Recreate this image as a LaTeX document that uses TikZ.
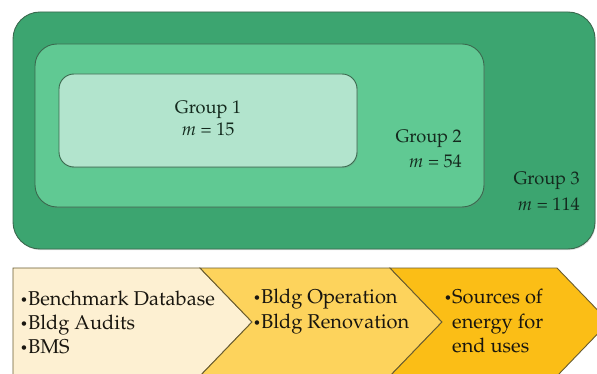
\documentclass[tikz,border=0pt]{standalone}
\usepackage[T1]{fontenc}
\usepackage{mathpazo}
\usetikzlibrary{shadows}
\definecolor{gthree}{RGB}{60,165,112}
\definecolor{gtwo}{RGB}{96,201,147}
\definecolor{gone}{RGB}{178,228,205}
\definecolor{gborder}{RGB}{58,105,78}
\definecolor{gtext}{RGB}{20,42,30}
\definecolor{cone}{RGB}{253,240,210}
\definecolor{ctwo}{RGB}{253,211,92}
\definecolor{cthree}{RGB}{251,190,22}
\definecolor{cborder}{RGB}{105,92,48}
\definecolor{ctext}{RGB}{25,22,15}
\newcommand{\bul}{{\fontsize{13}{13}\selectfont\raisebox{0.15ex}{\textbullet}}}
\begin{document}
\begin{tikzpicture}[x=1pt,y=-1pt,
  grpbox/.style={draw=gborder, line width=0.9pt, inner sep=0pt,
    drop shadow={opacity=0.25, shadow xshift=0.8pt, shadow yshift=-1.2pt}},
  grptext/.style={text=gtext, inner sep=0pt, font=\fontsize{18.2}{21}\selectfont},
  chev/.style={draw=cborder, line width=0.9pt, line join=miter},
  chevtext/.style={text=ctext, inner sep=0pt, anchor=base west, font=\fontsize{20}{24}\selectfont}]
\useasboundingbox (0,0) rectangle (597,374);
\clip (0,0) rectangle (597,374);
\fill[white] (0,0) rectangle (597,374);
% nested groups
\node[grpbox, fill=gthree, rounded corners=27pt, minimum width=582pt, minimum height=237pt] (g3) at (304,130.5) {};
\node[grpbox, fill=gtwo, rounded corners=22pt, minimum width=449pt, minimum height=163pt] (g2) at (259.5,125.5) {};
\node[grpbox, fill=gone, rounded corners=15pt, minimum width=298pt, minimum height=93pt] (g1) at (208,120.5) {};
% group labels
\node[grptext, anchor=base] (g1a) at (208,114) {Group 1};
\node[grptext, anchor=base] (g1b) at (208,136) {$m$ = 15};
\node[grptext, anchor=base east] (g2a) at (462,143) {Group 2};
\node[grptext, anchor=base east] (g2b) at (462,168) {$m$ = 54};
\node[grptext, anchor=base east] (g3a) at (580,185) {Group 3};
\node[grptext, anchor=base east] (g3b) at (580,211) {$m$ = 114};
% chevrons
\draw[chev, fill=cone] (13,376) -- (13,268) -- (200,268) -- (252,322) -- (200,376);
\draw[chev, fill=ctwo] (200,268) -- (390,268) -- (442,322) -- (390,376) -- (200,376) -- (252,322) -- cycle;
\draw[chev, fill=cthree] (390,268) -- (557,268) -- (609,322) -- (557,376) -- (390,376) -- (442,322) -- cycle;
% chevron texts
\node[chevtext] (a1) at (20,305) {\bul Benchmark Database};
\node[chevtext] (a2) at (20,329) {\bul Bldg Audits};
\node[chevtext] (a3) at (20,353) {\bul BMS};
\node[chevtext] (b1) at (253,303) {\bul Bldg Operation};
\node[chevtext] (b2) at (253,328) {\bul Bldg Renovation};
\node[chevtext] (c1) at (444,303) {\bul Sources of};
\node[chevtext] (c2) at (452,328) {energy for};
\node[chevtext] (c3) at (452,352) {end uses};
\end{tikzpicture}
\end{document}
